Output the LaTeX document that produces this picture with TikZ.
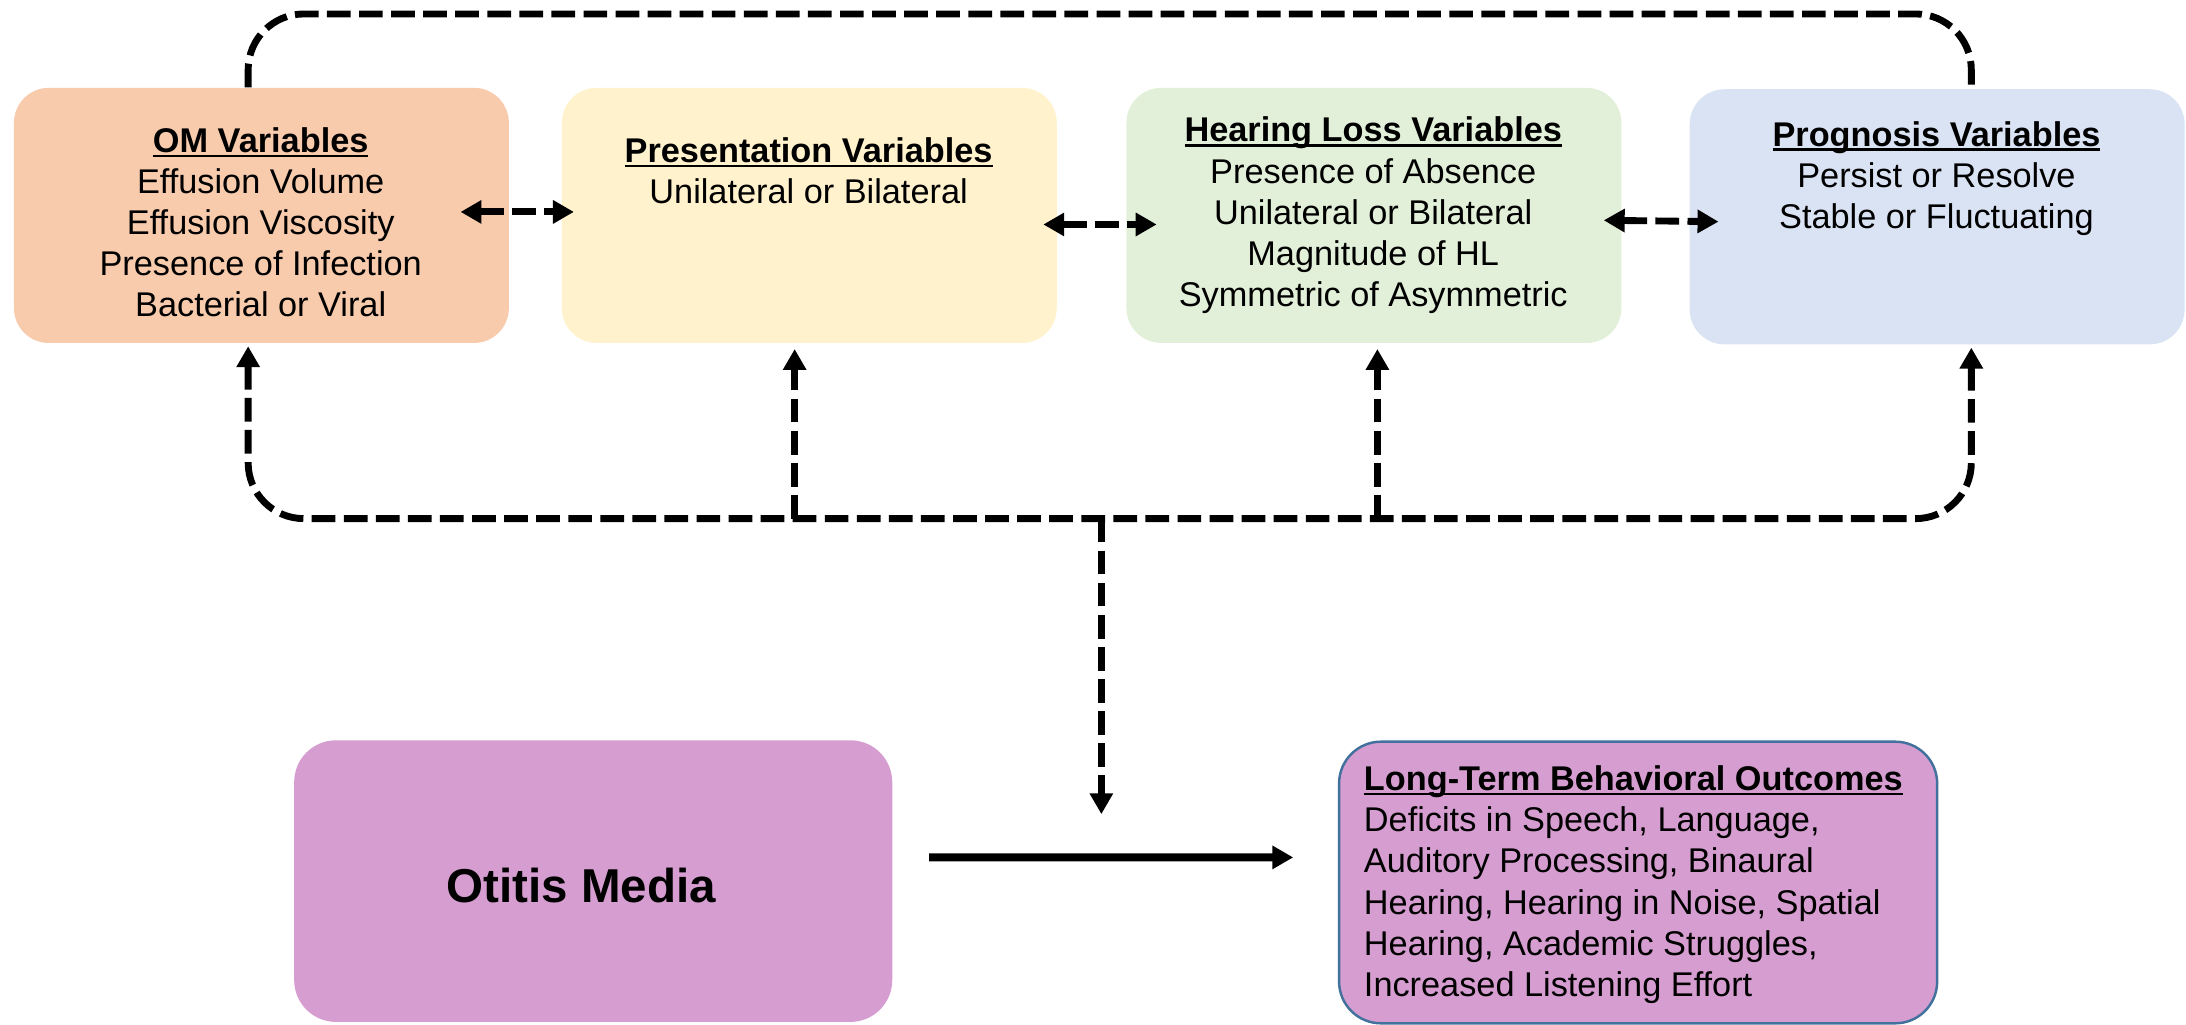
\documentclass[tikz,border=0pt]{standalone}
\usepackage{fontspec}
\setmainfont{Liberation Sans}
\usetikzlibrary{arrows.meta}
\usetikzlibrary{calc}
\definecolor{OmFill}{HTML}{F8CBAD}
\definecolor{PresFill}{HTML}{FFF2CC}
\definecolor{HlFill}{HTML}{E2F0D9}
\definecolor{ProgFill}{HTML}{DAE3F3}
\definecolor{MediaFill}{HTML}{D69DD0}
\definecolor{OutcomeLine}{HTML}{41719C}
\newcommand{\VarTitle}[1]{\setbox0\hbox{\textbf{#1}}\rlap{\rule[-2pt]{\wd0}{1.1pt}}\box0}
\tikzstyle{VarBox}=[rectangle, rounded corners=5mm, minimum width=71mm, minimum height=36.6mm, inner sep=0pt]
\tikzstyle{VarText}=[align=center, inner sep=0pt, font=\fontsize{14}{16.8}\selectfont]
\tikzstyle{OutcomeText}=[VarText, align=left]
\tikzstyle{MainBox}=[rectangle, rounded corners=6mm, minimum width=85.8mm, minimum height=40.4mm, inner sep=0pt, fill=MediaFill]
\tikzstyle{OutcomeBox}=[MainBox, draw=OutcomeLine, line width=1pt]
\tikzstyle{LinkEdge}=[line width=2.8pt, dash pattern=on 3.4mm off 1.2mm]
\tikzstyle{BothEdge}=[LinkEdge, <->]
\tikzstyle{CauseEdge}=[->, line width=3.3pt]
\tikzset{>={Triangle[length=3mm,width=3.2mm]}}

\begin{document}
\begin{tikzpicture}[x=0.2mm, y=-0.2mm]
\useasboundingbox (0,0) rectangle (1568,735);

\node[VarBox, fill=OmFill](om) at (187.5,154.5) {};
\node[VarBox, fill=PresFill](pres) at (580.5,154.5) {};
\node[VarBox, fill=HlFill](hl) at (985.5,154.5) {};
\node[VarBox, fill=ProgFill](prog) at (1389.5,155.5) {};
\node[MainBox](media) at (425.5,632) {};
\node[OutcomeBox](outcome) at (1175,633) {};

\node[VarText](omtext) at (187,159.5) {\VarTitle{OM Variables}\\Effusion Volume\\Effusion Viscosity\\Presence of Infection\\Bacterial or Viral};
\node[VarText](prestext) at (580,122.5) {\VarTitle{Presentation Variables}\\Unilateral or Bilateral};
\node[VarText](hltext) at (985,154.5) {\VarTitle{Hearing Loss Variables}\\Presence of Absence\\Unilateral or Bilateral\\Magnitude of HL\\Symmetric of Asymmetric};
\node[VarText](progtext) at (1389,128) {\VarTitle{Prognosis Variables}\\Persist or Resolve\\Stable or Fluctuating};
\node[font=\fontsize{19.4}{23}\selectfont\bfseries](mediatext) at (417,635) {Otitis Media};
\node[OutcomeText, anchor=west](outcometext) at (978,634.5) {\VarTitle{Long-Term Behavioral Outcomes}\\Deficits in Speech, Language,\\Auditory Processing, Binaural\\Hearing, Hearing in Noise, Spatial\\Hearing, Academic Struggles,\\Increased Listening Effort};

% attach points
\coordinate (lx) at (178,0);
\coordinate (rx) at (1414,0);
\coordinate (px) at (570,0);
\coordinate (hx) at (988,0);
\coordinate (top) at (0,10);
\coordinate (bus) at (790,372);
\coordinate (drop) at (790,584);

\draw[BothEdge]([xshift=-7mm,yshift=0.5mm]om.east) -- ([xshift=1.8mm,yshift=0.5mm]pres.west);
\draw[BothEdge]([xshift=-2mm,yshift=-1.3mm]pres.east) -- ([xshift=4.4mm,yshift=-1.3mm]hl.west);
\draw[BothEdge]([xshift=-2.6mm,yshift=-0.7mm]hl.east) -- ([xshift=4.2mm,yshift=-0.7mm]prog.west);

\draw[LinkEdge, rounded corners=8mm](om.north -| lx) -- (lx |- top) -- (rx |- top) -- (prog.north -| rx);
\draw[BothEdge, rounded corners=8mm, shorten <=0.4mm, shorten >=0.4mm](om.south -| lx) -- (lx |- bus) -- (rx |- bus) -- (prog.south -| rx);
\draw[LinkEdge, ->, shorten >=0.8mm](px |- bus) -- (pres.south -| px);
\draw[LinkEdge, ->, shorten >=0.8mm](hx |- bus) -- (hl.south -| hx);
\draw[LinkEdge, ->](bus) -- (drop);

\draw[CauseEdge, shorten <=5.2mm, shorten >=6.4mm]([yshift=3.4mm]media.east) -- ([yshift=3.6mm]outcome.west);
\end{tikzpicture}
\end{document}
